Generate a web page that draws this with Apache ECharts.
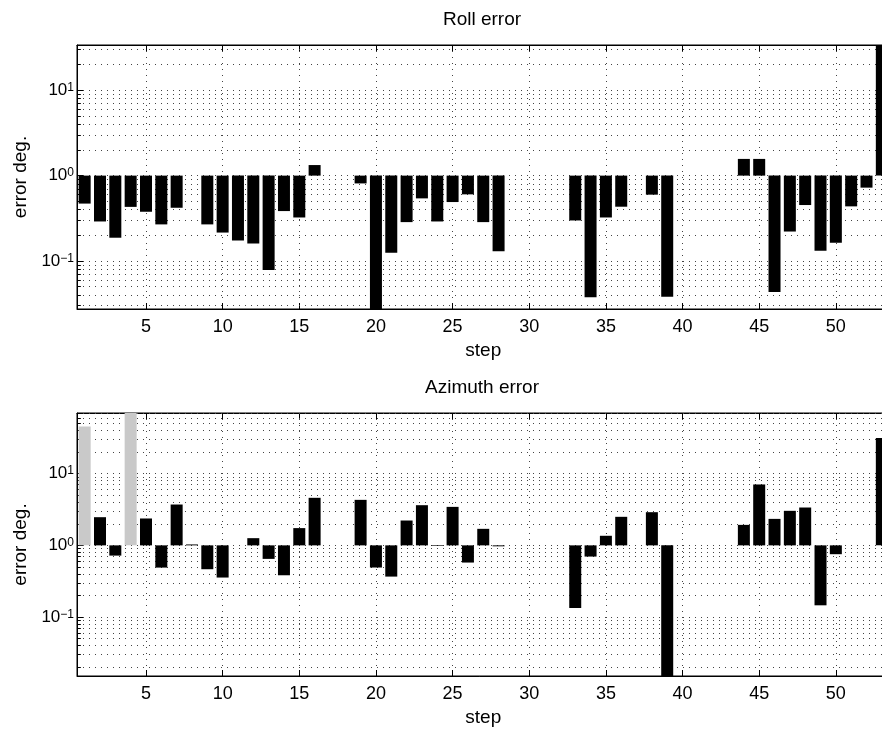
<!DOCTYPE html>
<html>
<head>
<meta charset="utf-8">
<script src="https://cdn.jsdelivr.net/npm/echarts@6/dist/echarts.min.js"></script>
<style>
  html, body { margin: 0; padding: 0; background: #fff; }
  #chart { width: 882px; height: 731px; }
</style>
</head>
<body>
<div id="chart"></div>
<script>
// Datos (null = sin barra)
const steps = [1, 2, 3, 4, 5, 6, 7, 8, 9, 10, 11, 12, 13, 14, 15, 16, 17, 18, 19, 20,
  21, 22, 23, 24, 25, 26, 27, 28, 29, 30, 31, 32, 33, 34, 35, 36, 37, 38, 39, 40,
  41, 42, 43, 44, 45, 46, 47, 48, 49, 50, 51, 52, 53];

const rollError = [0.47, 0.29, 0.187, 0.43, 0.377, 0.268, 0.42, null, 0.268, 0.215,
  0.173, 0.16, 0.078, 0.384, 0.323, 1.33, null, null, 0.81, 0.0273,
  0.125, 0.285, 0.541, 0.29, 0.49, 0.603, 0.285, 0.13, null, null,
  null, null, 0.298, 0.0374, 0.323, 0.432, null, 0.598, 0.038, null,
  null, null, null, 1.57, 1.57, 0.0432, 0.221, 0.452, 0.132, 0.163,
  0.436, 0.723, 34];

const azimuthError = [45.5, 2.47, 0.72, 70, 2.37, 0.49, 3.71, 1.03, 0.465, 0.356,
  null, 1.26, 0.648, 0.383, 1.74, 4.6, null, null, 4.31, 0.491,
  0.367, 2.22, 3.63, 0.98, 3.44, 0.576, 1.7, 0.97, null, null,
  null, null, 0.134, 0.698, 1.36, 2.5, null, 2.9, 0.0151, null,
  null, null, null, 1.93, 7.06, 2.34, 3.03, 3.37, 0.146, 0.753,
  null, null, 31.3];

// pasos dibujados en gris punteado
const azimuthShadedSteps = [1, 4];

// rangos de los ejes
const rollRange = [0.0273, 34];
const azimuthRange = [0.0151, 70];
const stepRange = [0.5, 53.5];

// lineas de rejilla log: mantisas x decadas
const gridMantissas = [1, 2, 3, 4, 5, 6, 7, 8, 9];
const gridDecades = [0.01, 0.1, 1, 10];

const FONT = '"Liberation Sans", Arial, Helvetica, sans-serif';
const DOTS = { type: [1, 5], color: '#444', width: 1 };

function gridValues(range) {
  const out = [];
  gridDecades.forEach(d => {
    gridMantissas.forEach(m => {
      const v = +(m * d).toPrecision(6);
      if (v >= range[0] && v <= range[1]) out.push(v);
    });
  });
  return out;
}

function barData(values, shaded) {
  return steps.map((s, i) => {
    const v = values[i];
    if (v == null) return [s, '-'];
    if (shaded && shaded.indexOf(s) >= 0) {
      return { value: [s, v], itemStyle: { color: '#c9c9c9' } };
    }
    return [s, v];
  });
}

function powLabel(v) {
  const e = Math.log10(v);
  const r = Math.round(e);
  if (Math.abs(e - r) > 1e-6) return '';
  const exp = r < 0 ? '\u2212' + (-r) : String(r);
  return '{b|10}{s|' + exp + '}';
}

function xAxisBottom(gi) {
  return {
    type: 'value', gridIndex: gi, position: 'bottom',
    min: stepRange[0], max: stepRange[1], minInterval: 5, maxInterval: 5,
    name: 'step', nameLocation: 'middle', nameGap: 32,
    nameTextStyle: { fontSize: 19, fontFamily: FONT, color: '#000' },
    axisLine: { show: true, lineStyle: { color: '#000', width: 1 } },
    axisTick: { show: true, inside: true, length: 6, lineStyle: { color: '#000' } },
    axisLabel: {
      margin: 9, fontSize: 18, fontFamily: FONT, color: '#000',
      formatter: v => (v % 5 === 0 ? String(v) : '')
    },
    splitLine: { show: true, lineStyle: DOTS }
  };
}

function xAxisTop(gi) {
  return {
    type: 'value', gridIndex: gi, position: 'top',
    min: stepRange[0], max: stepRange[1], minInterval: 5, maxInterval: 5,
    axisLine: { show: true, lineStyle: { color: '#000', width: 1 } },
    axisTick: { show: true, inside: true, length: 6, lineStyle: { color: '#000' } },
    axisLabel: { show: false },
    splitLine: { show: false }
  };
}

function yAxisLog(gi, range) {
  return {
    type: 'log', gridIndex: gi, logBase: 10,
    min: range[0], max: range[1],
    name: 'error deg.', nameLocation: 'middle', nameGap: 46,
    nameTextStyle: { fontSize: 19, fontFamily: FONT, color: '#000' },
    axisLine: { show: true, lineStyle: { color: '#000', width: 1 } },
    axisTick: { show: true, inside: true, length: 6, lineStyle: { color: '#000' } },
    axisLabel: {
      margin: 3, formatter: powLabel,
      showMinLabel: false, showMaxLabel: false,
      rich: {
        b: { fontSize: 17, fontFamily: FONT, color: '#000' },
        s: { fontSize: 12, fontFamily: FONT, color: '#000', verticalAlign: 'top' }
      }
    },
    splitLine: { show: false }
  };
}

function barSeries(gi, values, range, shaded) {
  const vals = gridValues(range);
  // lineas punteadas de rejilla + marcas menores en el eje izquierdo
  const lines = vals.map(v => ({ yAxis: v }));
  const minorTicks = vals.map(v => [
    { coord: [stepRange[0], v], lineStyle: { type: 'solid', color: '#000', width: 1 } },
    { coord: [stepRange[0] + 0.25, v] }
  ]);
  return {
    type: 'bar', xAxisIndex: gi, yAxisIndex: gi,
    data: barData(values, shaded),
    barWidth: 12, clip: true,
    itemStyle: { color: '#000' },
    markLine: {
      silent: true, z: 1, symbol: 'none', animation: false,
      label: { show: false },
      lineStyle: DOTS,
      data: lines.concat(minorTicks)
    }
  };
}

const chart = echarts.init(document.getElementById('chart'), null, { renderer: 'canvas' });

const titleStyle = { fontSize: 19, fontWeight: 'normal', fontFamily: FONT, color: '#000' };

chart.setOption({
  animation: false,
  backgroundColor: '#fff',
  title: [
    { text: 'Roll error', left: 482, top: 10, textAlign: 'center', textVerticalAlign: 'top', padding: 0, textStyle: titleStyle },
    { text: 'Azimuth error', left: 482, top: 378, textAlign: 'center', textVerticalAlign: 'top', padding: 0, textStyle: titleStyle }
  ],
  grid: [
    { left: 77, top: 45, width: 812.5, height: 264, outerBoundsMode: 'none', containLabel: false,
      show: true, borderColor: '#000', borderWidth: 1 },
    { left: 77, top: 413, width: 812.5, height: 263, outerBoundsMode: 'none', containLabel: false,
      show: true, borderColor: '#000', borderWidth: 1 }
  ],
  xAxis: [xAxisBottom(0), xAxisBottom(1), xAxisTop(0), xAxisTop(1)],
  yAxis: [yAxisLog(0, rollRange), yAxisLog(1, azimuthRange)],
  series: [
    barSeries(0, rollError, rollRange, null),
    barSeries(1, azimuthError, azimuthRange, azimuthShadedSteps)
  ]
});
</script>
</body>
</html>
